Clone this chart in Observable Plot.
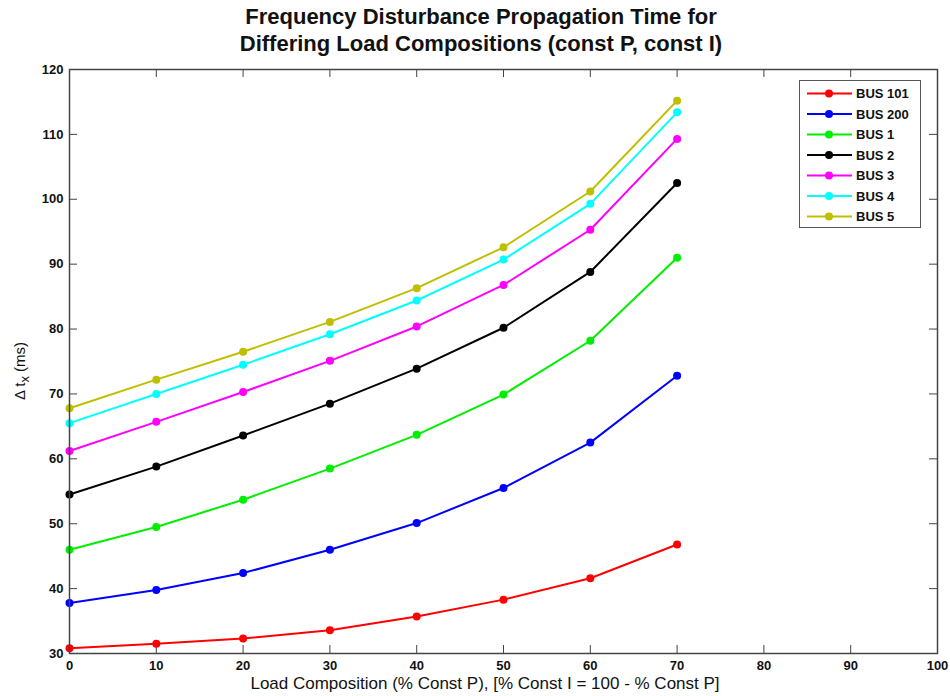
<!DOCTYPE html>
<html><head><meta charset="utf-8">
<script src="https://cdn.jsdelivr.net/npm/d3@7"></script>
<script src="https://cdn.jsdelivr.net/npm/@observablehq/plot@0.6"></script>
<style>
body{margin:0;background:#fff;font-family:"Liberation Sans",Arial,sans-serif;}
#wrap{width:950px;height:696px;overflow:hidden;position:relative;}
#title{box-sizing:border-box;width:950px;height:60px;padding-left:12px;padding-top:3px;text-align:center;font-weight:bold;font-size:22px;line-height:27px;color:#111;}
#xlabel{position:absolute;left:0;top:674px;width:950px;box-sizing:border-box;padding-left:20px;text-align:center;font-size:17px;color:#111;}
</style></head><body>
<div id="wrap">
<div id="title">Frequency Disturbance Propagation Time for<br>Differing Load Compositions (const P, const I)</div>
<div id="chart"></div>
<div id="xlabel">Load Composition (% Const P), [% Const I = 100 - % Const P]</div>
</div>
<script>
const xValues = [0, 10, 20, 30, 40, 50, 60, 70];
const bus101 = [30.8, 31.5, 32.3, 33.6, 35.7, 38.3, 41.6, 46.8];
const bus200 = [37.8, 39.8, 42.4, 46.0, 50.1, 55.5, 62.5, 72.8];
const bus1   = [46.0, 49.5, 53.7, 58.5, 63.7, 69.9, 78.2, 91.0];
const bus2   = [54.5, 58.8, 63.6, 68.5, 73.9, 80.2, 88.8, 102.5];
const bus3   = [61.2, 65.7, 70.3, 75.1, 80.4, 86.8, 95.3, 109.3];
const bus4   = [65.5, 70.0, 74.5, 79.2, 84.4, 90.7, 99.3, 113.4];
const bus5   = [67.8, 72.2, 76.5, 81.1, 86.3, 92.6, 101.2, 115.2];
const seriesNames = ["BUS 101", "BUS 200", "BUS 1", "BUS 2", "BUS 3", "BUS 4", "BUS 5"];
const seriesColors = ["#ff0000", "#0000ff", "#00ee00", "#000000", "#ff00ff", "#00ffff", "#bfbf00"];
const xTicks = [0, 10, 20, 30, 40, 50, 60, 70, 80, 90, 100];
const yTicks = [30, 40, 50, 60, 70, 80, 90, 100, 110, 120];

const seriesValues = [bus101, bus200, bus1, bus2, bus3, bus4, bus5];
const rows = [];
seriesNames.forEach((name, i) => {
  xValues.forEach((x, j) => rows.push({series: name, x, y: seriesValues[i][j]}));
});

const W = 950, H = 636, mL = 69, mR = 13, mT = 9, mB = 43;
const pw = W - mL - mR, ph = H - mT - mB;
const frameColor = "#444";

const chart = Plot.plot({
  width: W, height: H,
  marginLeft: mL, marginRight: mR, marginTop: mT, marginBottom: mB,
  style: {fontFamily: "'Liberation Sans', Arial, sans-serif", background: "#fff", color: "#111"},
  x: {domain: [0, 100]},
  y: {domain: [30, 120]},
  color: {domain: seriesNames, range: seriesColors},
  marks: [
    Plot.tickX(xTicks, {x: d => d, insetTop: ph - 8, stroke: frameColor}),
    Plot.tickX(xTicks, {x: d => d, insetBottom: ph - 8, stroke: frameColor}),
    Plot.tickY(yTicks, {y: d => d, insetRight: pw - 8, stroke: frameColor}),
    Plot.tickY(yTicks, {y: d => d, insetLeft: pw - 8, stroke: frameColor}),
    Plot.axisX({ticks: xTicks, tickSize: 0, tickPadding: 7, label: null, fontSize: 13, fontWeight: "bold", tickFormat: d => d}),
    Plot.axisY({ticks: yTicks, tickSize: 0, tickPadding: 6, label: null, fontSize: 13, fontWeight: "bold", tickFormat: d => d}),
    Plot.line(rows, {x: "x", y: "y", z: "series", stroke: "series", strokeWidth: 2}),
    Plot.dot(rows, {x: "x", y: "y", fill: "series", r: 4}),
    Plot.frame({stroke: frameColor, strokeWidth: 1.5})
  ]
});
document.getElementById("chart").appendChild(chart);

const svg = d3.select(chart);
// y label with subscript
const yl = svg.append("text")
  .attr("transform", `translate(25,${371 - 60}) rotate(-90)`)
  .attr("text-anchor", "middle")
  .attr("font-size", 15)
  .attr("fill", "#111");
yl.append("tspan").text("\u0394 t");
yl.append("tspan").attr("dy", 4).attr("font-size", 13).text("x");
yl.append("tspan").attr("dy", -4).text(" (ms)");

// legend
const lg = svg.append("g");
lg.append("rect").attr("x", 799.5).attr("y", 20.5).attr("width", 121).attr("height", 147)
  .attr("fill", "#fff").attr("stroke", "#555").attr("stroke-width", 1);
seriesNames.forEach((name, i) => {
  const cy = 33.5 + 20.5 * i;
  lg.append("line").attr("x1", 807).attr("x2", 852).attr("y1", cy).attr("y2", cy)
    .attr("stroke", seriesColors[i]).attr("stroke-width", 2);
  lg.append("circle").attr("cx", 829).attr("cy", cy).attr("r", 4).attr("fill", seriesColors[i]);
  lg.append("text").attr("x", 856).attr("y", cy).attr("dy", "0.36em")
    .attr("text-anchor", "start")
    .attr("font-size", 13).attr("font-weight", "bold").attr("fill", "#111").text(name);
});
</script>
</body></html>
